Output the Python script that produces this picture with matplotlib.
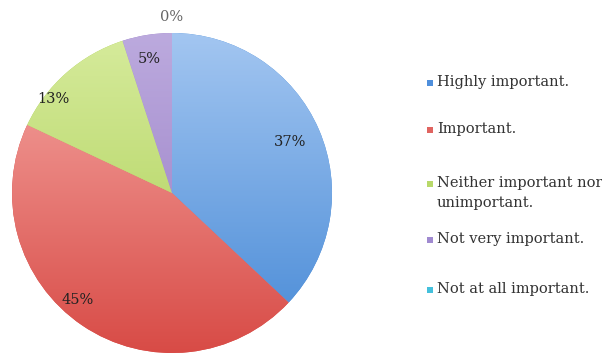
import matplotlib
matplotlib.use("Agg")
import matplotlib.pyplot as plt
import numpy as np
from matplotlib.patches import Rectangle

categories = ["Highly important.", "Important.", "Neither important nor\nunimportant.",
              "Not very important.", "Not at all important."]
values = [37, 45, 13, 5, 0]
labels = ["37%", "45%", "13%", "5%", "0%"]
# light (top) and dark (bottom) gradient colours per slice
top_colors = ["#a3c6f1", "#f6aaa6", "#d6eb9c", "#bcaade", "#7fd6ea"]
bottom_colors = ["#4689d6", "#d84b46", "#a9cd50", "#9478c2", "#2fb3d3"]
legend_colors = ["#4f8fdc", "#e06460", "#b8d96a", "#a08ad0", "#44c0dc"]

plt.rcParams['font.family'] = ['DejaVu Serif', 'Liberation Serif']

fig = plt.figure(figsize=(6.02, 3.54), dpi=100)
ax = fig.add_axes([12/602, 1/354, 320/602, 320/354])
ax.set_xlim(-1, 1)
ax.set_ylim(-1, 1)
ax.set_aspect('equal')
ax.axis('off')

wedges, _ = ax.pie(values, startangle=90, counterclock=False, radius=1,
                   colors=bottom_colors, wedgeprops=dict(linewidth=0))

def hex2rgb(h):
    return np.array(matplotlib.colors.to_rgb(h))

n = 256
t = np.linspace(0, 1, n)[:, None]
for w, c1, c2 in zip(wedges, top_colors, bottom_colors):
    a, b = hex2rgb(c1), hex2rgb(c2)
    img = a[None, None, :] * (1 - t[:, :, None]) + b[None, None, :] * t[:, :, None]
    img = np.repeat(img, 2, axis=1)
    im = ax.imshow(img, extent=[-1, 1, -1, 1], origin='upper', aspect='auto',
                   interpolation='bilinear', zorder=2)
    im.set_clip_path(w)

# label positions (fraction of radius, relative to center)
label_pos = [(0.74, 0.32), (-0.59, -0.67), (-0.74, 0.59), (-0.14, 0.84), (0.0, 1.10)]
for lab, (x, y) in zip(labels, label_pos):
    col = "#666666" if lab == "0%" else "#222222"
    ax.text(x, y, lab, ha='center', va='center', fontsize=10.5, color=col, zorder=5)

ax.set_xlim(-1, 1)
ax.set_ylim(-1, 1)

# legend
leg_y = [83, 130, 184, 240, 290]
for cat, col, y in zip(categories, legend_colors, leg_y):
    fig.patches.append(Rectangle((427/602, 1 - (y + 3)/354), 6/602, 6/354,
                                 transform=fig.transFigure, facecolor=col,
                                 edgecolor='none'))
    fig.text(437/602, 1 - (y - 8)/354, cat, ha='left', va='top', fontsize=10.5,
             color="#333333", linespacing=1.55)

fig.savefig("out.png", dpi=100)
